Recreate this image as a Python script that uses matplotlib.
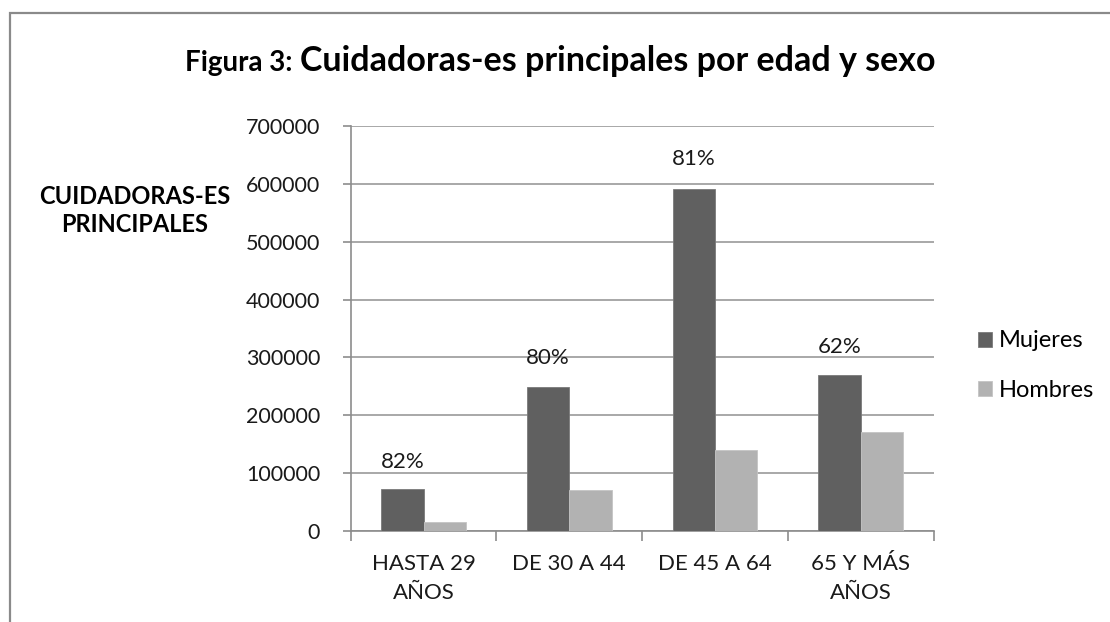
import matplotlib.pyplot as plt
import numpy as np
from matplotlib.patches import Rectangle

plt.rcParams['font.family'] = ['Lato', 'DejaVu Sans']

# data
categorias = ['HASTA 29\nAÑOS', 'DE 30 A 44', 'DE 45 A 64', '65 Y MÁS\nAÑOS']
mujeres = [72000, 249000, 592000, 270000]
hombres = [15000, 70000, 140000, 170000]
porcentajes = ['82%', '80%', '81%', '62%']
pos_porcentaje = [118000, 298000, 643000, 318000]

fig = plt.figure(figsize=(11.1, 6.22), dpi=100)
ax = fig.add_axes([0.316, 0.147, 0.525, 0.650])

x = np.arange(len(categorias))
ancho = 0.29
ax.bar(x - ancho / 2, mujeres, ancho, color='#606060', edgecolor='#7a7a7a', linewidth=0.6, label='Mujeres', zorder=3)
ax.bar(x + ancho / 2, hombres, ancho, color='#b2b2b2', edgecolor='#c4c4c4', linewidth=0.6, label='Hombres', zorder=3)

for xi, txt, yy in zip(x, porcentajes, pos_porcentaje):
    ax.text(xi - ancho / 2, yy, txt, ha='center', va='center', fontsize=16, color='#1a1a1a', zorder=4)

ax.set_xlim(-0.5, 3.5)
ax.set_ylim(0, 700000)
ax.set_yticks(np.arange(0, 700001, 100000))
ax.yaxis.grid(True, color='#9a9a9a', linewidth=1.2, zorder=0)
ax.set_xticks(x)
ax.set_xticklabels(categorias, fontsize=16, color='#1a1a1a', linespacing=1.55)
ax.set_xticks(np.arange(-0.5, 4, 1), minor=True)
ax.tick_params(axis='x', which='major', length=0, pad=17)
ax.tick_params(axis='x', which='minor', length=7, width=1.2, color='#8c8c8c', direction='out')
ax.tick_params(axis='y', length=6, width=1.2, color='#8c8c8c', labelsize=15.5, labelcolor='#1a1a1a', pad=16)

for s in ['top', 'right']:
    ax.spines[s].set_visible(False)
for s in ['left', 'bottom']:
    ax.spines[s].set_color('#8c8c8c')
    ax.spines[s].set_linewidth(1.2)

fig.text(0.1667, 0.886, 'Figura 3:', fontsize=20, fontweight='bold', ha='left', va='baseline')
fig.text(0.2703, 0.886, 'Cuidadoras-es principales por edad y sexo', fontsize=24.5, fontweight='bold',
         ha='left', va='baseline')
fig.text(0.121, 0.662, 'CUIDADORAS-ES\nPRINCIPALES', fontsize=17, fontweight='bold',
         ha='center', va='center', linespacing=1.25)

fig.legend(loc='upper left', bbox_to_anchor=(0.862, 0.503), frameon=False, fontsize=17,
           handlelength=0.6, handleheight=0.6, handletextpad=0.3, labelspacing=1.2)

fig.patches.append(Rectangle((10 / 1110, -0.1), 1.2, 0.1 + 1 - 13 / 622, transform=fig.transFigure,
                             fill=False, edgecolor='#8a8a8a', linewidth=1.6))

fig.savefig('out.png', dpi=100)
